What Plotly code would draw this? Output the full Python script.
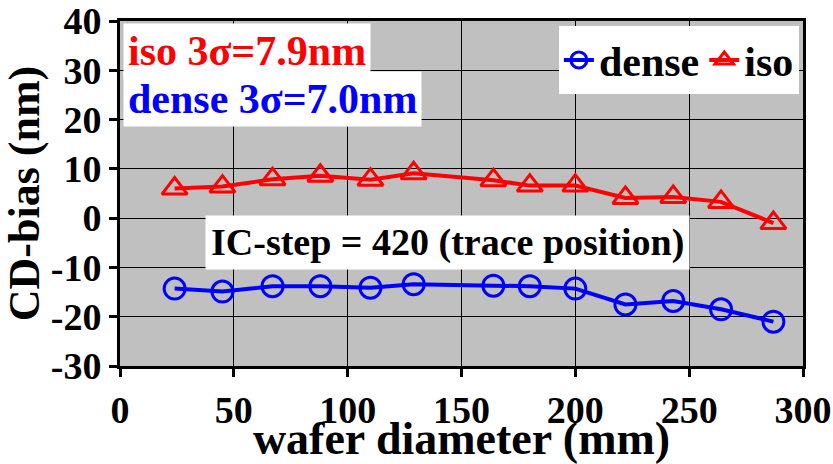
import plotly.graph_objects as go

# Data
x_pos = [24, 45, 67, 88, 110, 129, 164, 180, 200, 222, 243, 264, 287]
dense = [-14.3, -14.9, -13.8, -13.8, -14.1, -13.4, -13.7, -13.8, -14.3, -17.5, -16.8, -18.5, -21.0]
iso = [6.0, 6.4, 7.9, 8.6, 7.8, 9.1, 7.7, 6.6, 6.6, 4.1, 4.3, 3.3, -1.0]

x_ticks = [0, 50, 100, 150, 200, 250, 300]
y_ticks = [-30, -20, -10, 0, 10, 20, 30, 40]

FONT = "Liberation Serif"
RED = "#ff0000"
BLUE = "#0000ff"


def b(s):
    return f"<b>{s}</b>"


fig = go.Figure()
fig.add_trace(go.Scatter(
    x=x_pos, y=dense, name=b("dense"), mode="lines+markers",
    line=dict(color=BLUE, width=4),
    marker=dict(symbol="circle-open", size=21, color=BLUE, line=dict(width=3, color=BLUE)),
))
fig.add_trace(go.Scatter(
    x=x_pos, y=iso, name=b("iso"), mode="lines+markers",
    line=dict(color=RED, width=4),
    marker=dict(symbol="triangle-up-open", size=22, color=RED, line=dict(width=3, color=RED)),
))

axis_common = dict(
    showline=True, linecolor="black", linewidth=3, mirror=True,
    showgrid=True, gridcolor="black", gridwidth=1,
    ticks="outside", ticklen=8, tickwidth=3, tickcolor="black",
    zeroline=False, automargin=False,
)

fig.update_xaxes(range=[0, 300], tickvals=x_ticks, ticktext=[b(v) for v in x_ticks],
                 tickfont=dict(family=FONT, size=38, color="black"),
                 title=dict(text=b("wafer diameter (mm)"), standoff=0,
                            font=dict(family=FONT, size=46, color="black")),
                 **axis_common)
fig.update_yaxes(range=[-30, 40], tickvals=y_ticks, ticktext=[b(v) for v in y_ticks],
                 tickfont=dict(family=FONT, size=38, color="black"),
                 title=dict(text=b("CD-bias (nm)"), standoff=0,
                            font=dict(family=FONT, size=44, color="black")),
                 **axis_common)

fig.update_layout(
    width=833, height=464,
    margin=dict(l=120, r=30, t=21, b=98),
    paper_bgcolor="white",
    plot_bgcolor="#c0c0c0",
    font=dict(family=FONT, color="black"),
    showlegend=True,
    legend=dict(
        orientation="h", x=0.994, xanchor="right", y=0.985, yanchor="top",
        bgcolor="white",
        font=dict(family=FONT, size=42, color="black"),
    ),
)

# Sigma annotations (white box behind both lines)
fig.add_annotation(
    xref="paper", yref="paper", x=3 / 683, y=1 - 2 / 345,
    xanchor="left", yanchor="top", showarrow=False,
    text=b("iso 3σ=7.9nm"),
    font=dict(family=FONT, size=42, color=RED),
    bgcolor="white", borderpad=4,
)
fig.add_annotation(
    xref="paper", yref="paper", x=3 / 683, y=1 - 50 / 345,
    xanchor="left", yanchor="top", showarrow=False,
    text=b("dense 3σ=7.0nm"),
    font=dict(family=FONT, size=42, color=BLUE),
    bgcolor="white", borderpad=4,
)

# IC-step annotation
fig.add_annotation(
    xref="x", yref="y", x=144, y=-4.9,
    text=b("IC-step = 420 (trace position)"), showarrow=False,
    font=dict(family=FONT, size=38, color="black"),
    bgcolor="white", borderpad=5,
)

fig.write_html("out.html")
